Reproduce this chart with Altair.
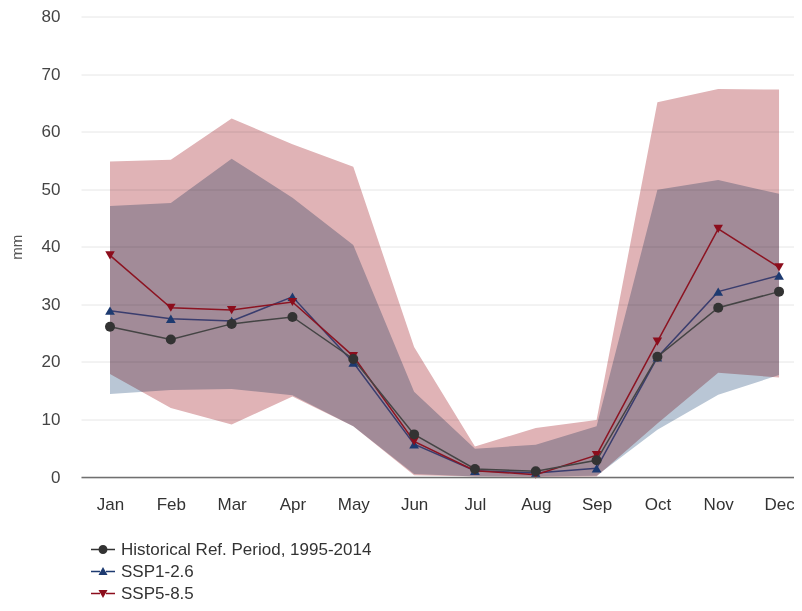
import json
import altair as alt
import pandas as pd

months = ["Jan", "Feb", "Mar", "Apr", "May", "Jun", "Jul", "Aug", "Sep", "Oct", "Nov", "Dec"]
month_idx = list(range(1, 13))

hist = [26.1, 23.9, 26.6, 27.8, 20.5, 7.4, 1.4, 1.0, 2.9, 20.9, 29.4, 32.2]
ssp126 = [28.9, 27.5, 27.1, 31.3, 19.9, 5.7, 1.1, 0.7, 1.5, 20.8, 32.2, 35.0]
ssp585 = [38.5, 29.4, 29.0, 30.4, 21.0, 6.2, 1.1, 0.4, 3.8, 23.5, 43.1, 36.4]

ssp126_low = [14.4, 15.1, 15.3, 14.2, 8.8, 0.5, 0.1, 0.1, 0.2, 8.2, 14.3, 17.7]
ssp126_high = [47.1, 47.6, 55.3, 48.5, 40.3, 14.8, 4.9, 5.6, 8.8, 49.9, 51.6, 49.2]
ssp585_low = [17.9, 12.0, 9.1, 14.0, 8.8, 0.3, 0.1, 0.0, 0.1, 9.3, 18.1, 17.3]
ssp585_high = [54.8, 55.1, 62.3, 57.8, 53.9, 22.6, 5.3, 8.5, 9.9, 65.1, 67.4, 67.3]

series_names = ["Historical Ref. Period, 1995-2014", "SSP1-2.6", "SSP5-8.5"]
marker_colors = ["#333333", "#1d3a70", "#8c0d1c"]
line_colors = ["#444444", "#3a3d6e", "#8c1422"]
marker_shapes = ["circle", "triangle-up", "triangle-down"]
marker_sizes = [100, 90, 90]
legend_paths = [
    "M-1.2,-0.07H-0.42V0.07H-1.2Z M0.42,-0.07H1.2V0.07H0.42Z M0.45,0A0.45,0.45 0 1,1 -0.45,0A0.45,0.45 0 1,1 0.45,0Z",
    "M-1.2,-0.07H-0.3V0.07H-1.2Z M0.3,-0.07H1.2V0.07H0.3Z M-0.45,0.35L0.45,0.35L0,-0.45Z",
    "M-1.2,-0.07H-0.3V0.07H-1.2Z M0.3,-0.07H1.2V0.07H0.3Z M-0.45,-0.35L0.45,-0.35L0,0.45Z",
]

bands = pd.DataFrame({
    "m": month_idx,
    "b_lo": ssp126_low, "b_hi": ssp126_high,
    "r_lo": ssp585_low, "r_hi": ssp585_high,
})

rows = []
for name, vals in [(series_names[1], ssp126), (series_names[2], ssp585), (series_names[0], hist)]:
    for m, v in zip(month_idx, vals):
        rows.append({"series": name, "m": m, "v": v})
lines = pd.DataFrame(rows)

FONT = "Liberation Sans"

x_scale = alt.Scale(domain=[0.5232, 12.246], nice=False, zero=False)
y_scale = alt.Scale(domain=[0, 80], nice=False)

x_axis = alt.Axis(
    values=month_idx,
    labelExpr=json.dumps(months) + "[datum.value - 1]",
    title=None, grid=False, ticks=False,
    domainColor="#707070", domainWidth=1.5,
    labelFontSize=17, labelColor="#333333", labelPadding=19,
    labelFont=FONT, zindex=1,
)
y_axis = alt.Axis(
    values=[0, 10, 20, 30, 40, 50, 60, 70, 80],
    title="mm", titleFontSize=15, titleFontWeight="normal", titleColor="#555555",
    titlePadding=17, titleFont=FONT,
    grid=True, gridColor="#e6e6e6", domain=False, ticks=False,
    labelFontSize=17, labelColor="#444444", labelPadding=21, labelFont=FONT,
)

blue_band = alt.Chart(bands).mark_area(color="#b9c6d5", blend="multiply").encode(
    x=alt.X("m:Q", scale=x_scale, axis=x_axis),
    y=alt.Y("b_lo:Q", scale=y_scale, axis=y_axis),
    y2="b_hi:Q",
)
red_band = alt.Chart(bands).mark_area(color="#e0b3b6", blend="multiply").encode(
    x=alt.X("m:Q", scale=x_scale),
    y=alt.Y("r_lo:Q", scale=y_scale),
    y2="r_hi:Q",
)

line_layer = alt.Chart(lines).mark_line(strokeWidth=1.5).encode(
    x=alt.X("m:Q", scale=x_scale),
    y=alt.Y("v:Q", scale=y_scale),
    color=alt.Color("series:N", scale=alt.Scale(domain=series_names, range=line_colors), legend=None),
)

point_layer = alt.Chart(lines).mark_point(filled=True, opacity=1).encode(
    x=alt.X("m:Q", scale=x_scale),
    y=alt.Y("v:Q", scale=y_scale),
    color=alt.Color("series:N", scale=alt.Scale(domain=series_names, range=marker_colors), legend=None),
    shape=alt.Shape("series:N", scale=alt.Scale(domain=series_names, range=marker_shapes), legend=None),
    size=alt.Size("series:N", scale=alt.Scale(domain=series_names, range=marker_sizes), legend=None),
)

leg = alt.Legend(
    title=None, orient="none", legendX=12, legendY=523,
    labelFontSize=17, labelColor="#333333", labelFont=FONT, labelLimit=0,
    symbolSize=400, symbolOpacity=1, symbolStrokeWidth=0,
    labelOffset=8, rowPadding=4, padding=0,
)
legend_layer = alt.Chart(lines).mark_point(filled=True, opacity=0).encode(
    x=alt.X("m:Q", scale=x_scale),
    y=alt.Y("v:Q", scale=y_scale),
    color=alt.Color("series:N", scale=alt.Scale(domain=series_names, range=marker_colors), legend=leg),
    shape=alt.Shape("series:N", scale=alt.Scale(domain=series_names, range=legend_paths), legend=leg),
)

chart = alt.layer(blue_band, red_band, line_layer, point_layer, legend_layer).resolve_scale(
    color="independent", shape="independent", size="independent"
).properties(
    width=713, height=460.5,
    autosize=alt.AutoSizeParams(type="none"),
    padding={"left": 73, "top": 8.5, "right": 0, "bottom": 126},
    background="white",
).configure_view(stroke=None)

chart.save("out.html", embed_options={"renderer": "svg", "actions": False})
